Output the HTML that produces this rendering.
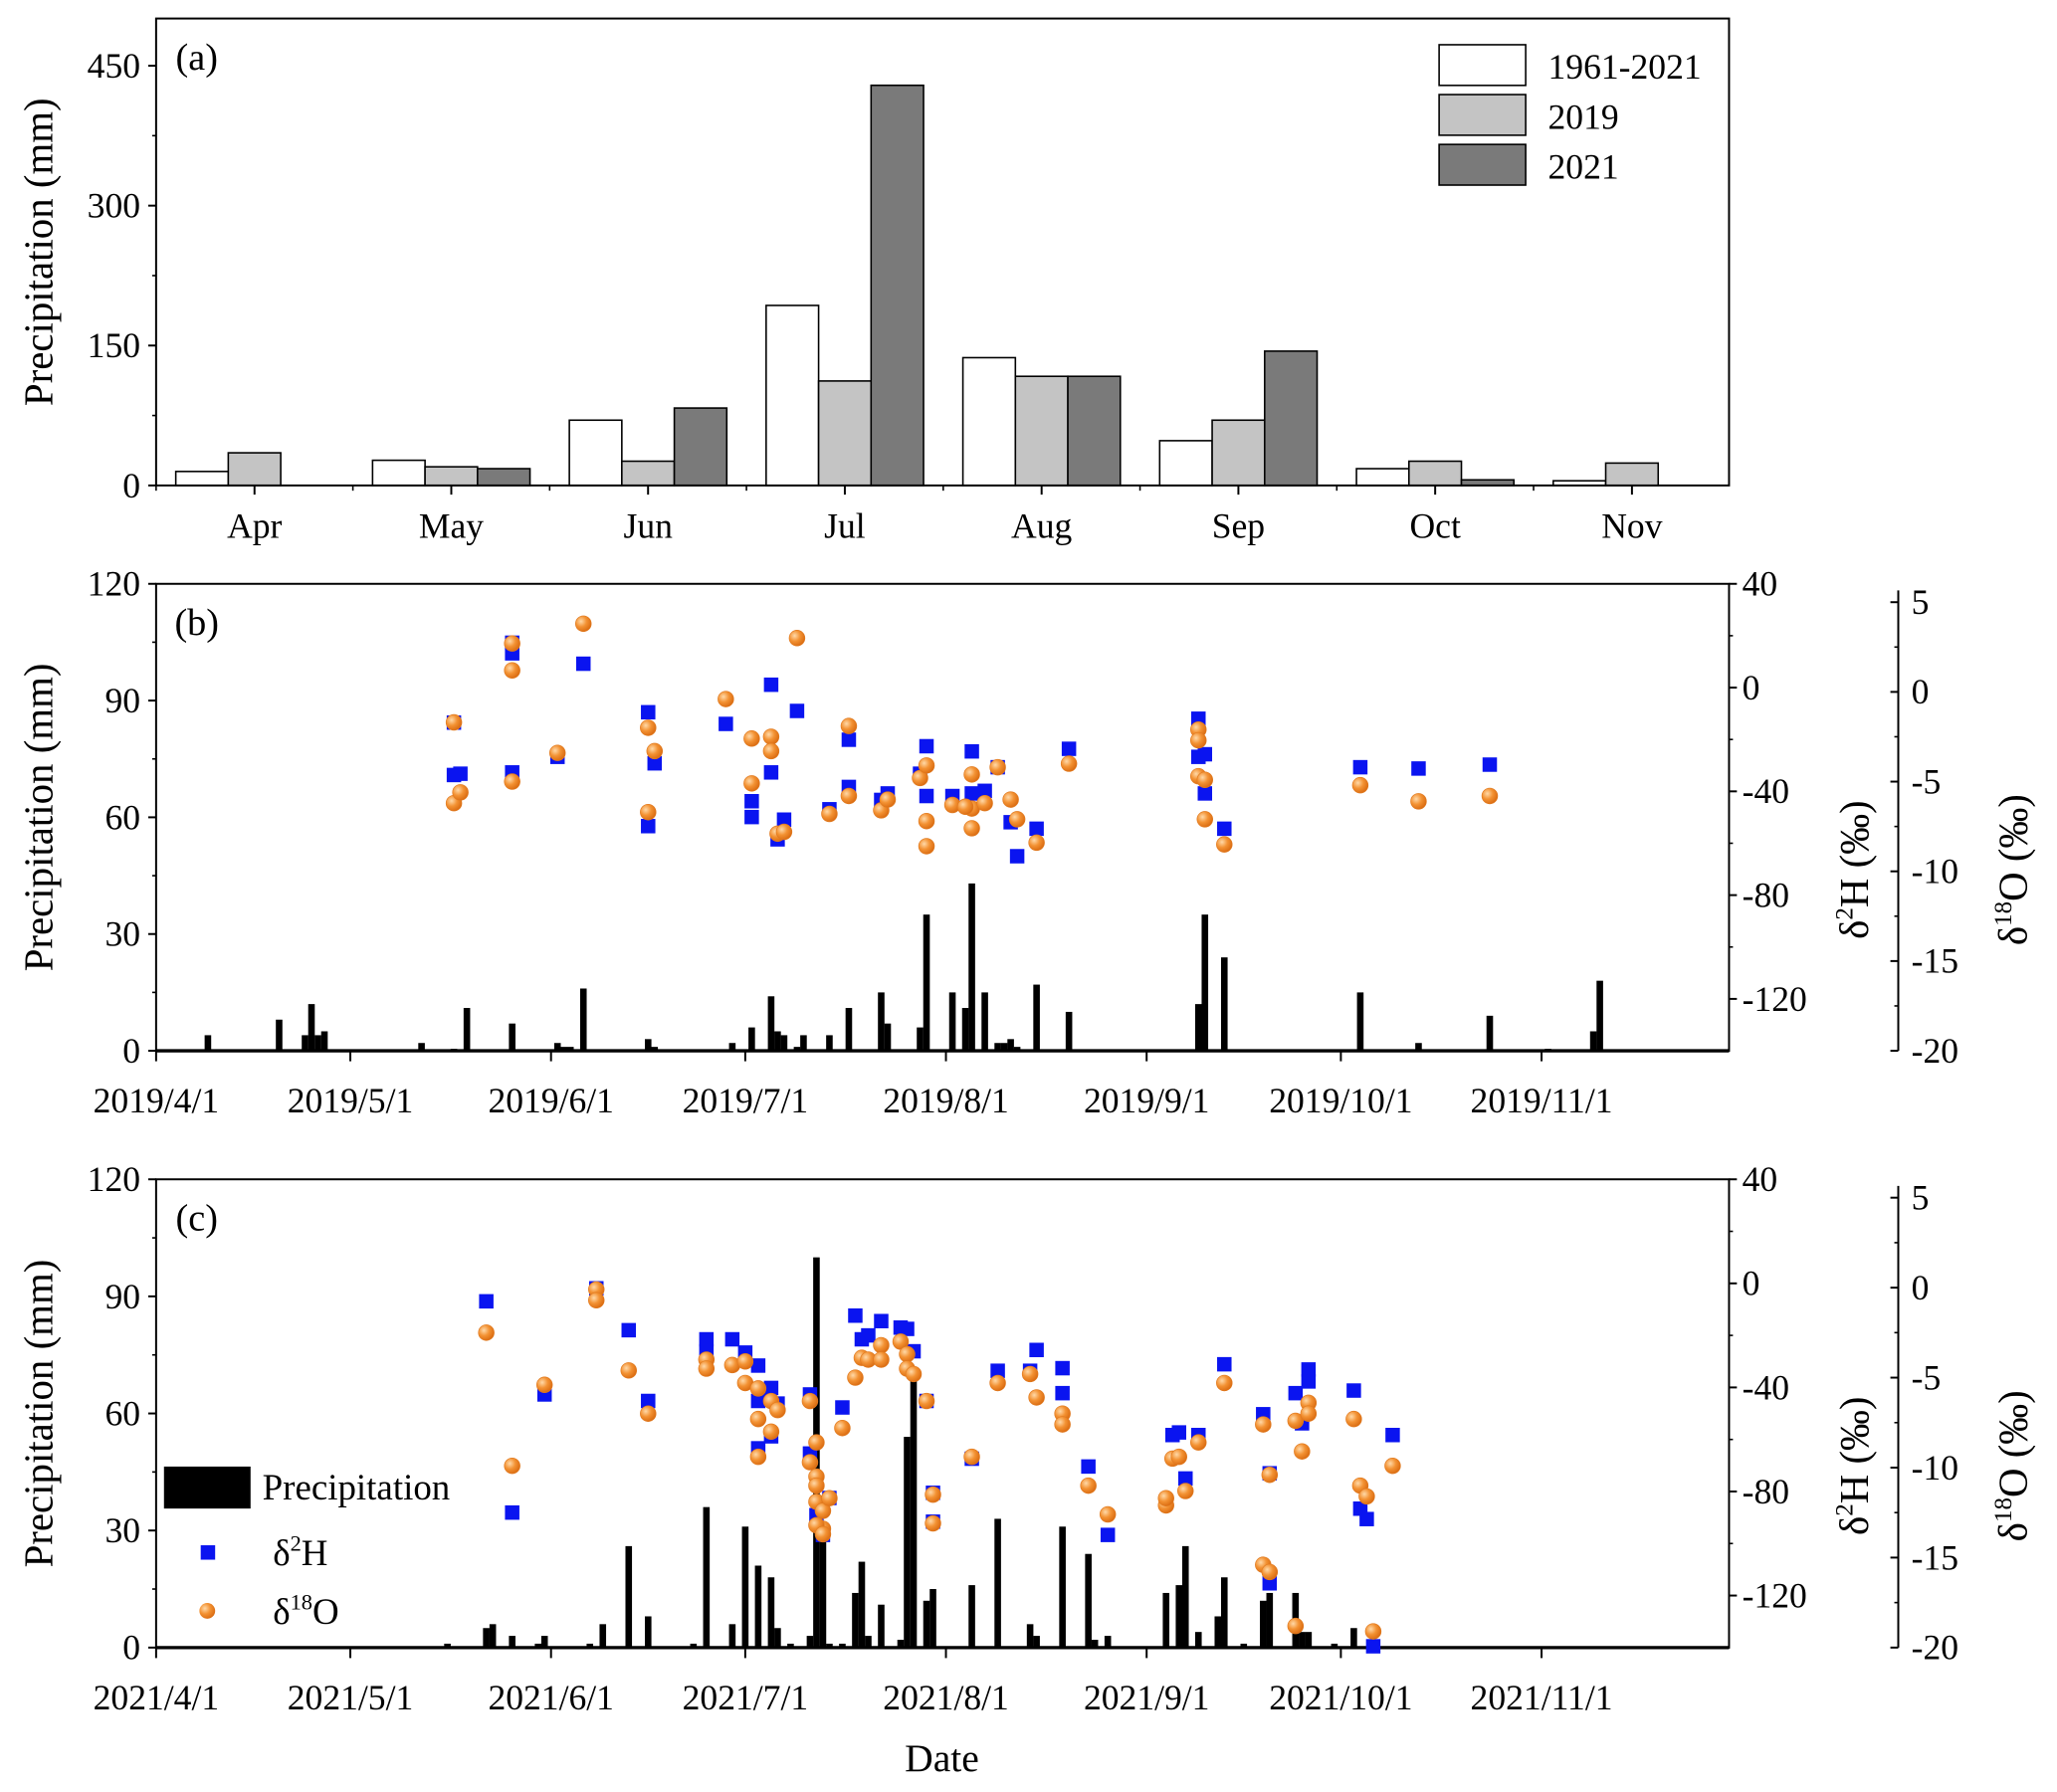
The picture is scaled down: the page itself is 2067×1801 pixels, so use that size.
<!DOCTYPE html>
<html><head><meta charset="utf-8"><style>
html,body{margin:0;padding:0;background:#fff}
svg{display:block;font-family:"Liberation Serif",serif}
</style></head><body>
<svg id="fig" width="2067" height="1801" viewBox="0 0 1568 1366" xmlns="http://www.w3.org/2000/svg">
<defs>
<radialGradient id="og" cx="0.35" cy="0.35" r="0.7"><stop offset="0" stop-color="#ffd9a8"/><stop offset="0.5" stop-color="#f39233"/><stop offset="1" stop-color="#d96a10"/></radialGradient>
</defs>
</svg>
<script>
// ---------- Panel (a) data ----------
const months=["Apr","May","Jun","Jul","Aug","Sep","Oct","Nov"];
const seriesNames=["1961-2021","2019","2021"];
const clim=[15,27,70,193,137,48,18,5];
const p2019=[35,20,26,112,117,70,26,24];
const p2021=[0,18,83,429,117,144,6,0];
const aTicks=[0,150,300,450];
// ---------- Panel (b) data (day since Apr 1) ----------
const bBarDays=[8,19,23,24,25,26,41,46,48,55,62,63,64,66,76,77,89,92,95,96,97,99,100,104,107,112,113,118,119,123,125,126,128,130,131,132,133,136,141,161,162,165,186,195,206,215,222,223,235];
const bBarMm=[4,8,4,12,4,5,2,0.5,11,7,2,1,1,16,3,1,2,6,14,5,4,1,4,4,11,15,7,6,35,15,11,43,15,2,2,3,1,17,10,12,35,24,15,2,9,0.5,5,18,0.3];
const bHDays=[46,46,47,55,55,55,62,66,76,76,77,88,92,92,95,95,96,97,99,104,107,107,112,113,118,119,119,123,126,126,128,130,132,133,136,141,161,161,162,162,165,186,195,206];
const bH=[-13.5,-33.7,-33.2,13.2,17.3,-32.7,-26.7,9.2,-9.5,-53.4,-29.2,-14,-43.8,-49.9,1.1,-32.7,-58.5,-50.9,-9,-46.9,-20.1,-38.3,-43.3,-40.8,-33.2,-22.6,-41.8,-41.8,-24.6,-40.8,-39.8,-30.7,-51.9,-65,-54.4,-23.6,-12,-26.7,-25.7,-40.8,-54.4,-30.7,-31.2,-29.7];
const bODays=[46,46,47,55,55,55,62,66,76,76,77,88,92,92,95,95,96,97,99,104,107,107,112,113,118,119,119,119,123,126,126,126,125,128,130,132,133,136,141,161,161,161,162,162,165,186,195,206];
const bO=[-1.7,-6.2,-5.6,2.7,1.2,-5.0,-3.4,3.8,-2.0,-6.7,-3.3,-0.4,-2.6,-5.1,-2.5,-3.3,-7.9,-7.8,3.0,-6.8,-1.9,-5.8,-6.6,-6.0,-4.8,-4.1,-7.2,-8.6,-6.3,-4.6,-6.5,-7.6,-6.4,-6.2,-4.2,-6.0,-7.1,-8.4,-4.0,-2.1,-2.7,-4.7,-4.9,-7.1,-8.5,-5.2,-6.1,-5.8];
// ---------- Panel (c) data ----------
const cBarDays=[45,51,52,55,59,60,67,69,73,76,83,85,89,91,93,95,96,98,101,102,103,104,106,108,109,110,112,115,116,117,119,120,126,130,135,136,140,144,145,147,156,158,159,161,164,165,168,171,172,176,177,178,182,185];
const cBarMm=[1,5,6,3,1,3,1,6,26,8,1,36,6,31,21,18,5,1,3,100,30,1,1,14,22,3,11,2,54,70,12,15,16,33,6,3,31,24,2,3,14,16,26,4,8,18,1,12,14,14,4,4,1,5];
const cHDays=[51,55,60,68,73,76,85,85,89,91,93,95,93,96,95,93,101,101,102,103,104,106,108,109,110,112,115,116,117,119,120,120,126,130,135,136,140,140,144,147,157,158,159,161,165,171,172,172,176,177,178,178,185,186,187,188,191];
const cH=[-6.9,-88.1,-42.7,-1.9,-18,-45.2,-21.5,-26.1,-21.5,-26.6,-31.6,-40.2,-45.2,-46.2,-58.8,-63.4,-42.7,-65.4,-89.1,-96.7,-82.5,-47.7,-12.4,-21.5,-20,-14.5,-17,-17.5,-26.1,-45.2,-80.5,-91.6,-67.4,-33.6,-33.6,-25.6,-32.6,-42.2,-70.4,-96.7,-58.3,-57.3,-75,-58.3,-31.1,-50.3,-73,-115.3,-42.2,-53.8,-33.1,-37.7,-41.2,-86.6,-90.6,-139.5,-58.3];
const cODays=[51,55,60,68,68,73,76,85,85,89,91,91,93,93,93,95,95,96,101,102,101,102,102,102,103,103,102,103,104,106,108,109,110,112,112,115,116,116,117,119,120,120,126,130,135,136,140,140,144,147,156,156,157,158,159,161,165,171,171,172,172,176,176,177,178,178,185,186,187,188,191];
const cO=[-2.5,-9.9,-5.4,-0.1,-0.7,-4.6,-7.0,-4.0,-4.5,-4.3,-4.1,-5.3,-5.6,-7.3,-9.4,-6.3,-8.0,-6.8,-6.3,-8.6,-9.7,-10.5,-11.0,-11.9,-12.4,-13.4,-13.2,-13.7,-11.7,-7.8,-5.0,-3.9,-4.0,-3.2,-4.0,-3.0,-3.7,-4.5,-4.8,-6.3,-11.5,-13.1,-9.4,-5.3,-4.8,-6.1,-7.0,-7.6,-11.0,-12.6,-12.1,-11.7,-9.5,-9.4,-11.3,-8.6,-5.3,-7.6,-15.4,-15.8,-10.4,-7.4,-18.8,-9.1,-6.4,-7.0,-7.3,-11.0,-11.6,-19.1,-9.9];
const dateTickDays=[0,30,61,91,122,153,183,214];
const dateTickSuffix=["4/1","5/1","6/1","7/1","8/1","9/1","10/1","11/1"];
const precTicks=[0,30,60,90,120];
const hTicks=[40,0,-40,-80,-120];
const oTicks=[5,0,-5,-10,-15,-20];

const NS="http://www.w3.org/2000/svg";
const svg=document.getElementById('fig');
function mk(tag,attrs,parent){const e=document.createElementNS(NS,tag);for(const k in attrs)e.setAttribute(k,attrs[k]);(parent||svg).appendChild(e);return e;}
function txt(x,y,s,size,anchor,parent){const t=mk('text',{x:x,y:y,'font-size':size,'text-anchor':anchor||'middle',fill:'#000'},parent);t.textContent=s;return t;}

// ===== Panel (a) =====
const aL=119,aR=1318,aT=14,aB=370;
const ay=v=>aB-(v/450)*(aB-50);
const ax=i=>194+i*150;
const ga=mk('g',{});


const fills=["#ffffff","#c4c4c4","#7a7a7a"];
const sets=[clim,p2019,p2021];
sets.forEach((arr,s)=>{arr.forEach((v,i)=>{if(v<=0)return;const r=mk('rect',{x:ax(i)-60+s*40,y:ay(v),width:40,height:aB-ay(v),fill:fills[s],stroke:'#000','stroke-width':1.2},ga);

});});
mk('rect',{x:aL,y:aT,width:aR-aL,height:aB-aT,fill:'none',stroke:'#000','stroke-width':1.5},ga);
aTicks.forEach(v=>{mk('line',{x1:aL-6,x2:aL,y1:ay(v),y2:ay(v),stroke:'#000','stroke-width':1.5},ga);txt(aL-12,ay(v)+9,String(v),27,'end',ga);});
[75,225,375].forEach(v=>mk('line',{x1:aL-3,x2:aL,y1:ay(v),y2:ay(v),stroke:'#000','stroke-width':1.2},ga));
months.forEach((m,i)=>{mk('line',{x1:ax(i),x2:ax(i),y1:aB,y2:aB+7,stroke:'#000','stroke-width':1.5},ga);mk('line',{x1:ax(i)-75,x2:ax(i)-75,y1:aB,y2:aB+4,stroke:'#000','stroke-width':1.2},ga);const t=txt(ax(i),410,m,27,'middle',ga);});
txt(150,53,'(a)',29,'middle',ga);
const ya=txt(0,0,'Precipitation (mm)',31,'middle',ga);ya.setAttribute('transform','translate(40,192) rotate(-90)');

seriesNames.forEach((n,s)=>{const g=mk('g',{},ga);
mk('rect',{x:1097,y:34+s*38,width:66,height:31,fill:fills[s],stroke:'#000','stroke-width':1.2},g);txt(1180,60+s*38,n,27,'start',g);});

// ===== Panels (b),(c) =====
function panel(name,label,T,B,barDays,barMm,hDays,hv,oDays,ov,oTop,legend){
  const g=mk('g',{});
  
  
  const L=119,R=1318;
  const xd=d=>L+d*4.935;
  const yp=v=>B-v/120*(B-T);
  const yh=v=>B-(v+140)/180*(B-T);
  const o20=B,o5=oTop;
  const yo=v=>o20-(v+20)/25*(o20-o5);
  // bars
  barDays.forEach((d,i)=>{const r=mk('rect',{x:xd(d)-2.5,y:yp(barMm[i]),width:5,height:B-yp(barMm[i]),fill:'#000'},g);
    });
  // frame
  mk('rect',{x:L,y:T,width:R-L,height:B-T,fill:'none',stroke:'#000','stroke-width':1.5},g);
  mk('line',{x1:L,x2:R,y1:B,y2:B,stroke:'#000','stroke-width':2.5},g);
  precTicks.forEach(v=>{mk('line',{x1:L-6,x2:L,y1:yp(v),y2:yp(v),stroke:'#000','stroke-width':1.5},g);txt(L-12,yp(v)+9,String(v),27,'end',g);});
  [15,45,75,105].forEach(v=>mk('line',{x1:L-3,x2:L,y1:yp(v),y2:yp(v),stroke:'#000','stroke-width':1.2},g));
  hTicks.forEach(v=>{mk('line',{x1:R,x2:R+6,y1:yh(v),y2:yh(v),stroke:'#000','stroke-width':1.5},g);txt(R+10,yh(v)+9,String(v),27,'start',g);});
  [20,-20,-60,-100].forEach(v=>mk('line',{x1:R,x2:R+3,y1:yh(v),y2:yh(v),stroke:'#000','stroke-width':1.2},g));
  const OX=1447;
  mk('line',{x1:OX,x2:OX,y1:T+5,y2:B,stroke:'#000','stroke-width':1.5},g);
  oTicks.forEach(v=>{mk('line',{x1:OX-6,x2:OX,y1:yo(v),y2:yo(v),stroke:'#000','stroke-width':1.5},g);txt(OX+10,yo(v)+9,String(v),27,'start',g);});
  [2.5,-2.5,-7.5,-12.5,-17.5].forEach(v=>mk('line',{x1:OX-3,x2:OX,y1:yo(v),y2:yo(v),stroke:'#000','stroke-width':1.2},g));
  dateTickDays.forEach((d,i)=>{mk('line',{x1:xd(d),x2:xd(d),y1:B,y2:B+8,stroke:'#000','stroke-width':1.5},g);
    const t=txt(xd(d),B+47,label[1]+'/'+dateTickSuffix[i],27,'middle',g);});
  txt(150,T+39,label[0],29,'middle',g);
  const yl=txt(0,0,'Precipitation (mm)',31,'middle',g);yl.setAttribute('transform','translate(40,'+((T+B)/2)+') rotate(-90)');
  
  const h=mk('text',{'font-size':31,'text-anchor':'middle',transform:'translate(1424,'+((T+B)/2+40)+') rotate(-90)'},g);
  h.innerHTML='δ<tspan font-size="19" dy="-12">2</tspan><tspan dy="12">H (‰)</tspan>';
  
  const o=mk('text',{'font-size':31,'text-anchor':'middle',transform:'translate(1545,'+((T+B)/2+40)+') rotate(-90)'},g);
  o.innerHTML='δ<tspan font-size="19" dy="-12">18</tspan><tspan dy="12">O (‰)</tspan>';
  
  hDays.forEach((d,i)=>{const r=mk('rect',{x:xd(d)-5.5,y:yh(hv[i])-5.5,width:11,height:11,fill:'#0a14f0'},g);
    });
  oDays.forEach((d,i)=>{const c=mk('circle',{cx:xd(d),cy:yo(ov[i]),r:6,fill:'url(#og)',stroke:'#e07a20','stroke-width':0.5},g);
    });
  if(legend){
    const lg=mk('g',{},g);
    mk('rect',{x:125,y:1118,width:66,height:32,fill:'#000'},lg);txt(200,1143,'Precipitation',28,'start',lg);
    mk('rect',{x:153,y:1178,width:11,height:11,fill:'#0a14f0'},lg);
    const t1=mk('text',{x:208,y:1193,'font-size':28},lg);t1.innerHTML='δ<tspan font-size="17" dy="-11">2</tspan><tspan dy="11">H</tspan>';
    mk('circle',{cx:158,cy:1228,r:6,fill:'url(#og)'},lg);
    const t2=mk('text',{x:208,y:1238,'font-size':28},lg);t2.innerHTML='δ<tspan font-size="17" dy="-11">18</tspan><tspan dy="11">O</tspan>';
  }
}
panel('panel-b',['(b)','2019'],445,801,bBarDays,bBarMm,bHDays,bH,bODays,bO,459,false);
panel('panel-c',['(c)','2021'],899,1256,cBarDays,cBarMm,cHDays,cH,cODays,cO,913,true);
const dt=txt(718,1350,'Date',30,'middle');


</script>
</body></html>
